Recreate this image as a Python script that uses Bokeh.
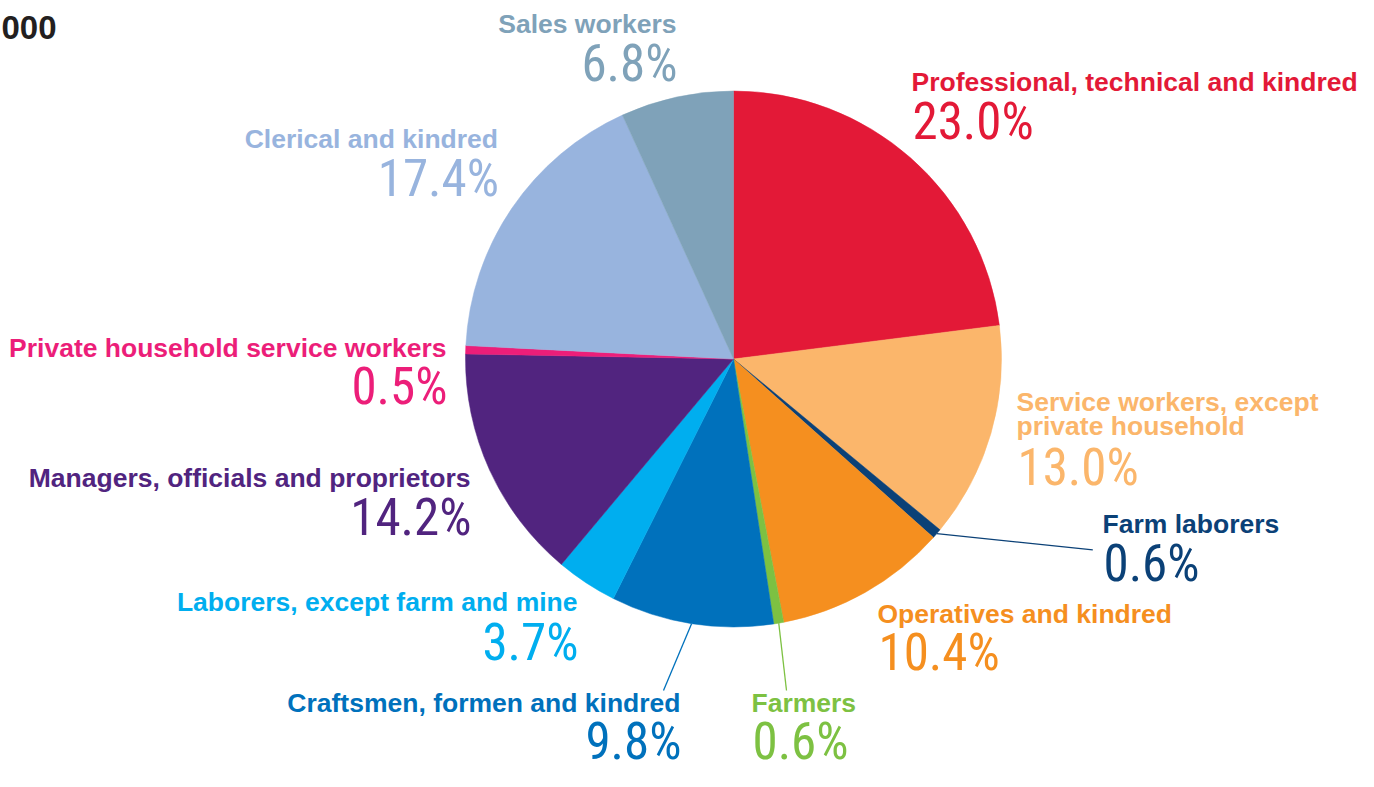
import numpy as np
from bokeh.plotting import figure
from bokeh.models import ColumnDataSource, Range1d
from bokeh.core.properties import value
from bokeh.embed import file_html
from bokeh.resources import INLINE

# ---------------- data ----------------
categories = [
    "Professional, technical and kindred",
    "Service workers, except private household",
    "Farm laborers",
    "Operatives and kindred",
    "Farmers",
    "Craftsmen, formen and kindred",
    "Laborers, except farm and mine",
    "Managers, officials and proprietors",
    "Private household service workers",
    "Clerical and kindred",
    "Sales workers",
]
shares = [23.0, 13.0, 0.6, 10.4, 0.6, 9.8, 3.7, 14.2, 0.5, 17.4, 6.8]
colors = ["#E31937", "#FBB66B", "#0B4177", "#F58F1F", "#7DC142", "#0071BC",
          "#00AEEF", "#51247F", "#EC1E79", "#98B4DE", "#7FA2B9"]
title_text = "000"

# ---------------- layout (screen pixels from the picture's top-left) ----------------
FW, FH = 1358, 771
def sy(y):  # screen y -> data y
    return FH - y

CX, CY, R = 733.0, 358.5, 268.0
PCT_FS = 51
BASE_FIX = 0.36  # em shift so that the glyph baseline lands where intended

label_lines = {
    "Service workers, except private household": ["Service workers, except", "private household"],
}
# x anchor, alignment, label baselines, pct baseline, label font size
label_layout = [
    (911, "left", [91.0], 139.0, 26.5),
    (1016, "left", [410.7, 435.5], 485.0, 26.5),
    (1102, "left", [533.3], 581.7, 26.5),
    (877, "left", [622.7], 670.0, 26.5),
    (751, "left", [712.0], 759.0, 26.5),
    (680, "right", [712.0], 759.0, 26.5),
    (577, "right", [611.0], 660.0, 26.5),
    (470, "right", [487.3], 535.0, 26.5),
    (446, "right", [356.7], 404.0, 26.5),
    (497.5, "right", [148.3], 196.0, 26.5),
    (676, "right", [33.3], 81.7, 26.5),
]
leader_ends = {2: (1092.3, 549.3), 4: (786.0, 690.0), 5: (663.0, 690.0)}

p = figure(width=FW, height=FH, output_backend="svg",
           toolbar_location=None, x_range=Range1d(0, FW), y_range=Range1d(0, FH),
           min_border=0, outline_line_color=None)
p.axis.visible = False
p.grid.visible = False
p.background_fill_color = "white"
p.border_fill_color = "white"

vals = np.array(shares)
frac = vals / vals.sum()
cum = np.concatenate([[0], np.cumsum(frac)])
start = np.pi / 2 - 2 * np.pi * cum[:-1]
end = np.pi / 2 - 2 * np.pi * cum[1:]
src = ColumnDataSource(dict(start=start, end=end, color=colors, name=categories))
p.wedge(x=CX, y=sy(CY), radius=R, start_angle="start", end_angle="end",
        direction="clock", fill_color="color", line_color="color", line_width=0.5, source=src)

# leader lines
mid = 2 * np.pi * (cum[:-1] + cum[1:]) / 2  # clockwise from top
for i, (ex, ey) in leader_ends.items():
    x0 = CX + R * np.sin(mid[i])
    y0 = CY - R * np.cos(mid[i])
    p.segment(x0=x0, y0=sy(y0), x1=ex, y1=sy(ey), line_color=colors[i], line_width=1.3)

label_font = value("'Liberation Sans', Arial, sans-serif")
pct_font = value("'Liberation Sans Narrow', 'Roboto Condensed', 'DejaVu Sans Condensed', sans-serif")

for i, name in enumerate(categories):
    x, align, bl, pb, fs = label_layout[i]
    lines = label_lines.get(name, [name])
    for line, b in zip(lines, bl):
        p.text(x=[x], y=[sy(b - BASE_FIX * fs)], text=[line], text_align=align,
               text_baseline="alphabetic", text_font=label_font, text_font_style="bold",
               text_font_size=f"{fs}px", text_color=colors[i])
    p.text(x=[x + 1], y=[sy(pb - BASE_FIX * PCT_FS)], text=[f"{shares[i]:.1f}%"],
           text_align=align, text_baseline="alphabetic", text_font=pct_font,
           text_font_size=f"{PCT_FS}px", text_color=colors[i])

p.text(x=[56], y=[sy(39 - BASE_FIX * 33)], text=[title_text], text_align="right",
       text_baseline="alphabetic", text_font=label_font, text_font_style="bold",
       text_font_size="33px", text_color="#231F20")

open("out.html", "w").write(file_html(p, INLINE))
